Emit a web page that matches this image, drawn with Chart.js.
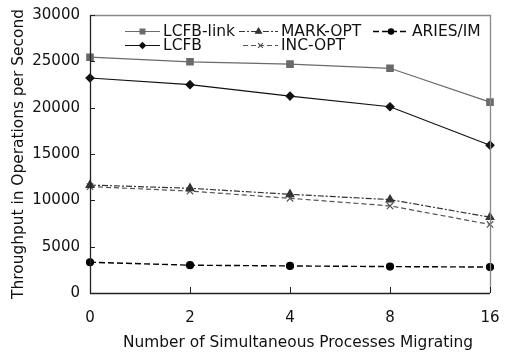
<!DOCTYPE html>
<html><head><meta charset="utf-8">
<script src="https://cdn.jsdelivr.net/npm/chart.js@4/dist/chart.umd.min.js"></script>
<style>html,body{margin:0;padding:0;background:#fff}#w{width:505px;height:356px}</style>
</head><body><div id="w"><canvas id="c" width="505" height="356"></canvas></div>
<script>
const categories = ['0','2','4','8','16'];
const lcfbLink = [25450, 24950, 24700, 24250, 20600];
const lcfb     = [23200, 22480, 21250, 20100, 15950];
const markOpt  = [11650, 11300, 10650, 10080, 8180];
const incOpt   = [11480, 11000, 10220, 9400, 7400];
const ariesIm  = [3320, 3000, 2920, 2850, 2800];
const yTicks   = [0, 5000, 10000, 15000, 20000, 25000, 30000];
const xTitle = 'Number of Simultaneous Processes Migrating';
const yTitle = 'Throughput in Operations per Second';

const FONT = 'DejaVu Sans';
const datasets = [
  {label:'LCFB-link', data:lcfbLink, borderColor:'#6a6a6a', backgroundColor:'#6a6a6a', pointStyle:'rect', pointRadius:4.5, borderWidth:1.2, borderDash:[]},
  {label:'LCFB', data:lcfb, borderColor:'#111', backgroundColor:'#111', pointStyle:'rectRot', pointRadius:4, borderWidth:1.2, borderDash:[]},
  {label:'MARK-OPT', data:markOpt, borderColor:'#333', backgroundColor:'#333', pointStyle:'triangle', pointRadius:4.5, borderWidth:1.2, borderDash:[6,2,2,2]},
  {label:'INC-OPT', data:incOpt, borderColor:'#555', backgroundColor:'#555', pointStyle:'crossRot', pointRadius:4.5, borderWidth:1.2, borderDash:[5,3]},
  {label:'ARIES/IM', data:ariesIm, borderColor:'#000', backgroundColor:'#000', pointStyle:'circle', pointRadius:3.5, borderWidth:1.4, borderDash:[6,3]},
];
datasets.forEach(d=>{d.fill=false;d.tension=0;d.pointBorderWidth=1.2;d.pointBackgroundColor=d.backgroundColor;d.pointBorderColor=d.borderColor;});

const legendLayout = [
  {i:0, x:125, y:31, len:35}, {i:2, x:239, y:31, len:39}, {i:4, x:373, y:31, len:36},
  {i:1, x:125, y:45, len:35}, {i:3, x:243, y:45, len:35}
];

const framePlugin = {
  id:'frame',
  afterDraw(chart){
    const ctx = chart.ctx, a = chart.chartArea;
    const xs = chart.scales.x, ys = chart.scales.y;
    ctx.save();
    ctx.lineWidth = 1.3;
    ctx.strokeStyle = '#888';
    ctx.beginPath();
    ctx.moveTo(a.left, a.top+0.5); ctx.lineTo(a.right+0.5, a.top+0.5); ctx.lineTo(a.right+0.5, a.bottom);
    ctx.stroke();
    ctx.strokeStyle = '#222';
    ctx.beginPath();
    ctx.moveTo(a.left+0.5, a.top); ctx.lineTo(a.left+0.5, a.bottom+0.5); ctx.lineTo(a.right, a.bottom+0.5);
    ctx.stroke();
    ctx.lineWidth = 1;
    ctx.strokeStyle = '#222';
    ctx.beginPath();
    yTicks.forEach(v=>{const y=Math.round(ys.getPixelForValue(v))+0.5; ctx.moveTo(a.left, y); ctx.lineTo(a.left+5, y);});
    categories.forEach((c,k)=>{const x=Math.round(xs.getPixelForValue(k))+0.5; ctx.moveTo(x, a.bottom); ctx.lineTo(x, a.bottom-6);});
    ctx.stroke();
    // x axis title
    ctx.font = '15.4px "'+FONT+'"';
    ctx.fillStyle = '#111';
    ctx.textAlign = 'center';
    ctx.textBaseline = 'middle';
    ctx.fillText(xTitle, (a.left+a.right)/2 + 8, 343);
    // legend
    ctx.textAlign = 'left';
    ctx.font = '15.5px "'+FONT+'"';
    legendLayout.forEach(L=>{
      const d = chart.data.datasets[L.i];
      const len = L.len;
      ctx.save();
      ctx.strokeStyle = d.borderColor; ctx.lineWidth = d.borderWidth;
      ctx.setLineDash(d.borderDash||[]);
      ctx.beginPath(); ctx.moveTo(L.x, L.y+0.5); ctx.lineTo(L.x+len, L.y+0.5); ctx.stroke();
      ctx.restore();
      ctx.save();
      ctx.fillStyle = d.backgroundColor; ctx.strokeStyle = d.borderColor; ctx.lineWidth = d.pointBorderWidth;
      Chart.helpers.drawPoint(ctx, {pointStyle:d.pointStyle, radius:d.pointRadius*0.75, borderWidth:d.pointBorderWidth, rotation:0}, L.x+len/2, L.y+0.5);
      ctx.restore();
      ctx.fillStyle = '#111';
      ctx.fillText(d.label, L.x+len+3, L.y+1);
    });
    ctx.restore();
  }
};

new Chart(document.getElementById('c'), {
  type:'line',
  data:{labels:categories, datasets},
  options:{
    responsive:false, animation:false, devicePixelRatio:1,
    layout:{padding:{top:15, right:15, left:0, bottom:0}},
    plugins:{legend:{display:false}, tooltip:{enabled:false}},
    scales:{
      x:{
        offset:false,
        grid:{display:false, drawTicks:false},
        border:{display:false},
        ticks:{font:{family:FONT,size:15}, color:'#111', padding:16, maxRotation:0, autoSkip:false},
        title:{display:false, text:xTitle},
        afterFit(s){ s.height = 63; s.paddingLeft = 0; s.paddingRight = 0; }
      },
      y:{
        min:0, max:30000,
        afterBuildTicks(s){ s.ticks = yTicks.map(v=>({value:v})); },
        grid:{display:false, drawTicks:false},
        border:{display:false},
        ticks:{font:{family:FONT,size:15}, color:'#111', padding:10, callback:(v)=>String(v)},
        title:{display:true, text:yTitle, font:{family:FONT,size:15.4}, color:'#111', padding:{top:10,bottom:0}},
        afterFit(s){ s.width = 90; s.paddingTop = 0; s.paddingBottom = 0; }
      }
    }
  },
  plugins:[framePlugin]
});
</script>
</body></html>
